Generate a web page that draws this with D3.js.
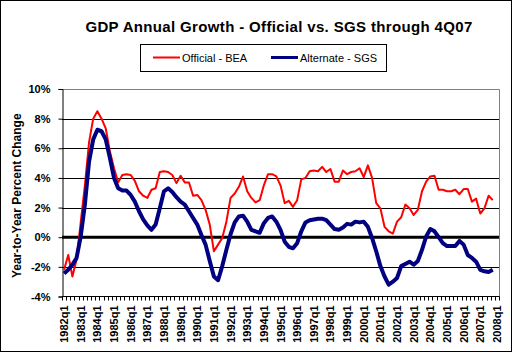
<!DOCTYPE html>
<html><head><meta charset="utf-8">
<script src="https://cdn.jsdelivr.net/npm/d3@7"></script>
<style>
html,body{margin:0;padding:0;background:#fff;}
svg{display:block;font-family:"Liberation Sans",Arial,sans-serif;}
</style></head>
<body>
<svg id="c" width="513" height="353"></svg>
<script>
// ---- data ----
const years = d3.range(1982, 2009);
const categories = [];
years.forEach(y => { for (let q = 1; q <= 4; q++) { if (y === 2008 && q > 1) break; categories.push(y + "q" + q); } });
const tickLabels = years.map(y => y + "q1");
const yTicks = [-4, -2, 0, 2, 4, 6, 8, 10];

const officialBEA = [
 -2.2,-1.2,-2.65,-1.5, 1.0,3.5,6.4,8.0, 8.5,8.0,7.35,5.8, 4.65,3.7,4.2,4.25,
 4.2,3.8,3.1,2.8, 2.65,3.2,3.3,4.4, 4.45,4.4,4.2,3.65, 4.15,3.7,3.7,2.8,
 2.85,2.5,1.85,0.85, -0.95,-0.5,-0.05,1.05, 2.65,2.95,3.4,4.1, 3.1,2.65,2.35,2.5,
 3.5,4.25,4.25,4.1, 3.5,2.3,2.45,2.05, 2.5,3.9,4.0,4.45, 4.5,4.45,4.75,4.4,
 4.6,3.75,3.75,4.5, 4.25,4.4,4.45,4.65, 4.05,4.85,4.0,2.3, 1.95,0.7,0.4,0.25,
 1.05,1.35,2.2,1.95, 1.5,1.85,3.1,3.75, 4.1,4.15,3.2,3.2, 3.1,3.1,3.2,2.9,
 3.25,3.25,2.4,2.6, 1.6,1.95,2.8,2.5
];
const alternateSGS = [
 -2.45,-2.2,-1.85,-1.4, 0.05,2.2,5.1,6.6, 7.25,7.15,6.6,5.35, 4.0,3.3,3.15,3.15,
 2.85,2.4,1.75,1.2, 0.8,0.5,0.85,1.95, 3.1,3.3,3.05,2.7, 2.4,2.2,1.75,1.3,
 0.85,0.15,-0.5,-1.6, -2.65,-2.9,-1.95,-0.85, 0.2,1.0,1.4,1.45, 1.05,0.5,0.4,0.3,
 0.95,1.3,1.4,1.05, 0.5,-0.3,-0.65,-0.75, -0.4,0.4,1.0,1.15, 1.2,1.25,1.25,1.15,
 0.85,0.55,0.5,0.65, 0.9,0.85,1.05,1.0, 1.05,0.7,-0.05,-0.95, -1.95,-2.65,-3.2,-3.0,
 -2.75,-1.95,-1.8,-1.65, -1.85,-1.6,-0.85,0.05, 0.55,0.4,0.0,-0.4, -0.6,-0.6,-0.6,-0.25,
 -0.5,-1.2,-1.4,-1.65, -2.2,-2.3,-2.35,-2.2
];

// ---- layout ----
const svg = d3.select("#c");
const W = 513, H = 353;
const L = 62, R = 499, T = 89, B = 296.5;
const font = '"Liberation Sans",Arial,sans-serif';

svg.append("rect").attr("x",0).attr("y",0).attr("width",W).attr("height",H).attr("fill","#fff");
svg.append("rect").attr("x",0.5).attr("y",0.5).attr("width",511).attr("height",351)
  .attr("fill","none").attr("stroke","#000").attr("stroke-width",1);

const x = d3.scaleBand().domain(categories).range([L, R]).padding(0);
const y = d3.scaleLinear().domain([-4, 10]).range([B, T]);
const cx = c => x(c) + x.bandwidth() / 2;

// plot border (gray top/right)
svg.append("path").attr("d", `M${L},${T+0.5}H${R+0.5}V${B}`).attr("fill","none").attr("stroke","#808080").attr("stroke-width",1);

// gridlines
svg.append("g").selectAll("line").data(yTicks.filter(v => v !== 0 && v !== 10 && v !== -4)).join("line")
  .attr("x1", L).attr("x2", R).attr("y1", d => Math.round(y(d)) + 0.5).attr("y2", d => Math.round(y(d)) + 0.5)
  .attr("stroke","#000").attr("stroke-width",1);

// y axis
const yAxis = d3.axisLeft(y).tickValues(yTicks).tickSize(4).tickPadding(8).tickFormat(d => d + "%");
const gy = svg.append("g").attr("transform", `translate(${L+0.5},0)`).call(yAxis);
gy.select(".domain").attr("stroke","#000");
gy.selectAll(".tick line").attr("stroke","#000");
gy.selectAll(".tick text").attr("font-family", font).attr("font-size", 11).attr("font-weight","bold").attr("fill","#000");

// x axis: ticks at each category boundary
const xAxisG = svg.append("g");
xAxisG.append("line").attr("x1", L).attr("x2", R + 0.5).attr("y1", B).attr("y2", B).attr("stroke","#000");
const boundaries = categories.map(c => x(c)).concat([R]);
xAxisG.selectAll("line.t").data(boundaries).join("line").attr("class","t")
  .attr("x1", d => Math.round(d) + 0.5).attr("x2", d => Math.round(d) + 0.5)
  .attr("y1", B).attr("y2", B + 4).attr("stroke","#000");
xAxisG.selectAll("text").data(tickLabels).join("text")
  .attr("transform", d => `translate(${cx(d)},${B + 9}) rotate(-90)`)
  .attr("text-anchor","end").attr("dominant-baseline","central")
  .attr("font-family", font).attr("font-size", 11).attr("font-weight","bold").attr("fill","#000")
  .text(d => d);

// zero line
svg.append("line").attr("x1", L).attr("x2", R).attr("y1", y(0)).attr("y2", y(0))
  .attr("stroke","#000").attr("stroke-width",3);

// series
const line = d3.line().x((d, i) => cx(categories[i])).y(d => y(d));
svg.append("path").datum(officialBEA).attr("d", line).attr("fill","none")
  .attr("stroke","#FF0000").attr("stroke-width",2).attr("stroke-linejoin","round");
svg.append("path").datum(alternateSGS).attr("d", line).attr("fill","none")
  .attr("stroke","#000080").attr("stroke-width",4).attr("stroke-linejoin","round");

// title
svg.append("text").attr("x", 279).attr("y", 32).attr("text-anchor","middle")
  .attr("font-family", font).attr("font-size", 15).attr("font-weight","bold").attr("fill","#000")
  .attr("letter-spacing", 0.35)
  .text("GDP Annual Growth - Official vs. SGS through 4Q07");

// y title
svg.append("text").attr("transform", `translate(21,${(T+B)/2 + 3}) rotate(-90)`).attr("text-anchor","middle")
  .attr("font-family", font).attr("font-size", 12).attr("font-weight","bold").attr("fill","#000")
  .text("Year-to-Year Percent Change");

// legend
const lg = svg.append("g");
lg.append("rect").attr("x",140.5).attr("y",44.5).attr("width",246).attr("height",27)
  .attr("fill","#fff").attr("stroke","#000");
const legendItems = [
  {name:"Official - BEA", color:"#FF0000", w:2, x0:153},
  {name:"Alternate - SGS", color:"#000080", w:3, x0:271}
];
legendItems.forEach(it => {
  lg.append("line").attr("x1", it.x0).attr("x2", it.x0 + 27).attr("y1", 57.5).attr("y2", 57.5)
    .attr("stroke", it.color).attr("stroke-width", it.w);
  lg.append("text").attr("x", it.x0 + 29).attr("y", 61.5)
    .attr("font-family", font).attr("font-size", 11).attr("fill","#000").text(it.name);
});
</script>
</body></html>
